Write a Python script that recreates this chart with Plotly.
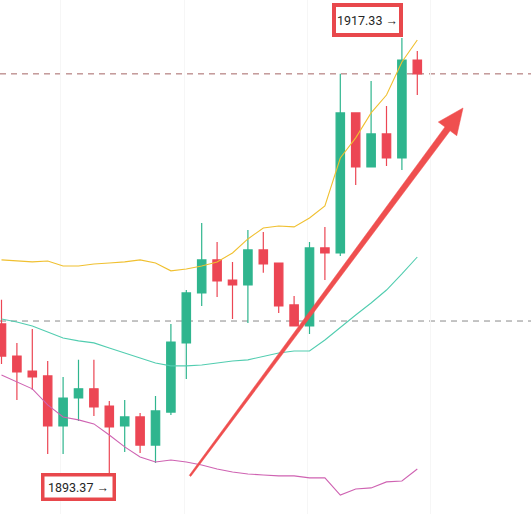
import math
import plotly.graph_objects as go

# ---- data ----
idx = list(range(28))
opens  = [1901.65, 1899.89, 1899.07, 1898.80, 1896.06, 1897.59, 1898.09, 1897.15, 1896.06, 1896.55,
          1895.01, 1896.82, 1900.61, 1903.35, 1905.16, 1904.06, 1903.79, 1905.71, 1904.99, 1902.69,
          1901.54, 1905.82, 1905.54, 1913.22, 1910.26, 1912.07, 1910.75, 1916.12]
highs  = [1902.97, 1900.61, 1901.37, 1899.62, 1898.74, 1899.68, 1899.68, 1897.43, 1897.48, 1896.77,
          1897.70, 1901.65, 1903.51, 1907.19, 1906.14, 1905.05, 1906.80, 1906.69, 1904.99, 1903.18,
          1906.14, 1906.97, 1915.36, 1913.22, 1914.97, 1913.60, 1917.33, 1916.62]
lows   = [1899.46, 1897.48, 1898.03, 1894.52, 1894.52, 1896.33, 1896.60, 1893.37, 1894.63, 1894.58,
          1894.03, 1896.66, 1898.63, 1902.64, 1903.13, 1901.92, 1901.70, 1904.45, 1902.25, 1901.54,
          1901.10, 1904.06, 1905.38, 1909.27, 1910.26, 1910.31, 1910.09, 1914.20]
closes = [1899.89, 1899.02, 1898.74, 1896.06, 1897.59, 1898.09, 1897.10, 1896.00, 1896.55, 1895.01,
          1896.88, 1900.66, 1903.35, 1905.16, 1904.01, 1903.79, 1905.71, 1904.94, 1902.64, 1901.54,
          1905.82, 1905.54, 1913.22, 1910.26, 1912.07, 1910.75, 1916.12, 1915.36]

upper_band = [1905.16, 1905.10, 1905.05, 1905.10, 1904.83, 1904.83, 1904.94, 1904.99, 1905.05, 1905.16,
              1904.99, 1904.56, 1904.66, 1904.83, 1905.05, 1905.54, 1906.31, 1906.91, 1907.02, 1906.97,
              1907.46, 1908.12, 1910.75, 1911.85, 1913.22, 1914.20, 1916.01, 1917.22]
middle_band = [1901.92, 1901.76, 1901.54, 1901.21, 1900.88, 1900.72, 1900.61, 1900.33, 1900.06, 1899.78,
               1899.51, 1899.35, 1899.35, 1899.40, 1899.51, 1899.62, 1899.68, 1899.89, 1900.06, 1900.17,
               1900.17, 1900.77, 1901.48, 1902.14, 1902.80, 1903.51, 1904.39, 1905.32]
lower_band = [1898.85, 1898.47, 1898.09, 1897.21, 1896.55, 1896.39, 1896.17, 1895.56, 1894.91, 1894.36,
              1894.08, 1894.19, 1894.08, 1893.92, 1893.70, 1893.53, 1893.42, 1893.37, 1893.32, 1893.32,
              1893.21, 1893.21, 1892.27, 1892.60, 1892.66, 1892.99, 1893.04, 1893.70]

level_lines = [1915.36, 1901.81]
level_colors = ["#a46464", "#8a8a8a"]

high_label = "1917.33 <b>→</b>"
low_label = "1893.37 <b>→</b>"
high_label_pos = (23.77, 1918.32)
low_label_pos = (4.97, 1892.71)

arrow_tail = (12.24, 1893.32)
arrow_tip = (29.97, 1913.49)

# ---- layout geometry ----
W, H = 531, 514
X0, X1 = -0.0974, 34.383
Y0, Y1 = 1891.23, 1919.41

GREEN = "#2fb58e"
RED = "#ec4654"


def to_px(x, y):
    return (x - X0) / (X1 - X0) * W, (Y1 - y) / (Y1 - Y0) * H


def to_data(px, py):
    return X0 + px / W * (X1 - X0), Y1 - py / H * (Y1 - Y0)


fig = go.Figure()

fig.add_trace(go.Scatter(x=idx, y=upper_band, mode="lines",
                         line=dict(color="#f0c030", width=1.1), hoverinfo="skip"))
fig.add_trace(go.Scatter(x=idx, y=middle_band, mode="lines",
                         line=dict(color="#52cdb0", width=1.1), hoverinfo="skip"))
fig.add_trace(go.Scatter(x=idx, y=lower_band, mode="lines",
                         line=dict(color="#cf63b2", width=1.1), hoverinfo="skip"))

fig.add_trace(go.Candlestick(
    x=idx, open=opens, high=highs, low=lows, close=closes,
    increasing=dict(line=dict(color=GREEN, width=1.2), fillcolor=GREEN),
    decreasing=dict(line=dict(color=RED, width=1.2), fillcolor=RED),
    whiskerwidth=0,
))

# dashed level lines
for lv, col in zip(level_lines, level_colors):
    fig.add_shape(type="line", xref="paper", yref="y", x0=0, x1=1, y0=lv, y1=lv,
                  line=dict(color=col, width=1, dash="6px,5px"), layer="below")

# tapered red arrow
tx, ty = to_px(*arrow_tail)
hx, hy = to_px(*arrow_tip)
L = math.hypot(hx - tx, hy - ty)
ux, uy = (hx - tx) / L, (hy - ty) / L
nx, ny = -uy, ux
head_len, head_half = 26, 11.5
bx, by = hx - head_len * ux, hy - head_len * uy
w_tail, w_base = 0.9, 3.2
pts_px = [
    (tx + nx * w_tail, ty + ny * w_tail),
    (bx + nx * w_base, by + ny * w_base),
    (bx + nx * head_half, by + ny * head_half),
    (hx, hy),
    (bx - nx * head_half, by - ny * head_half),
    (bx - nx * w_base, by - ny * w_base),
    (tx - nx * w_tail, ty - ny * w_tail),
]
pts = [to_data(px, py) for px, py in pts_px]
path = "M " + " L ".join(f"{x:.5f},{y:.5f}" for x, y in pts) + " Z"
fig.add_shape(type="path", xref="x", yref="y", path=path,
              fillcolor="#ef4f4f", line=dict(color="#ef4f4f", width=0.5), layer="above")

# labelled boxes
fig.add_annotation(x=high_label_pos[0], y=high_label_pos[1], xref="x", yref="y",
                   text=high_label, showarrow=False, xanchor="center", yanchor="middle",
                   width=61, height=24, align="center", valign="middle",
                   font=dict(family="Roboto", size=12.5, color="#262626"),
                   bgcolor="white", bordercolor="#e8484c", borderwidth=4, borderpad=1)
fig.add_annotation(x=low_label_pos[0], y=low_label_pos[1], xref="x", yref="y",
                   text=low_label, showarrow=False, xanchor="center", yanchor="middle",
                   width=66, height=19, align="center", valign="middle",
                   font=dict(family="Roboto", size=12.5, color="#262626"),
                   bgcolor="white", bordercolor="#e8484c", borderwidth=3.5, borderpad=1)

fig.update_layout(
    width=W, height=H, autosize=False,
    margin=dict(l=0, r=0, t=0, b=0, pad=0),
    paper_bgcolor="white", plot_bgcolor="white",
    showlegend=False, boxgap=0.22,
    xaxis=dict(range=[X0, X1], showticklabels=False, zeroline=False, showline=False,
               showgrid=True, gridcolor="#f6f6f6", tick0=3.86, dtick=8,
               rangeslider=dict(visible=False), fixedrange=True),
    yaxis=dict(range=[Y0, Y1], showticklabels=False, zeroline=False, showline=False,
               showgrid=False, fixedrange=True),
)

fig.write_html("out.html", config={"displayModeBar": False},
               post_script="document.body.style.margin='0';document.body.style.overflow='hidden';")
